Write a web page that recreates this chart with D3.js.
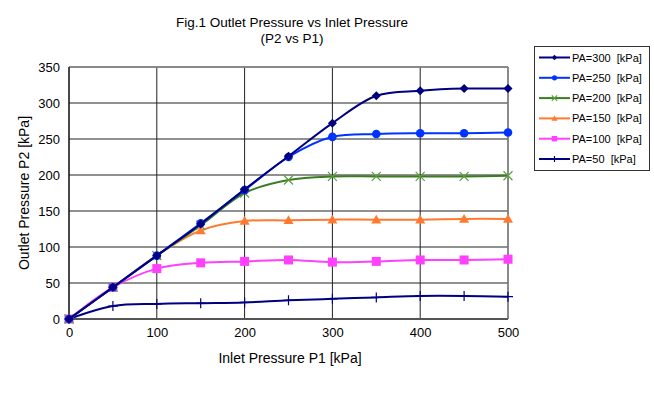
<!DOCTYPE html>
<html>
<head>
<meta charset="utf-8">
<script src="https://cdn.jsdelivr.net/npm/d3@7"></script>
<style>
  body { margin: 0; background: #fff; }
  svg { font-family: "Liberation Sans", Arial, sans-serif; }
  .grid line { stroke: #222; stroke-width: 1; }
  .axis text { font-size: 13px; fill: #000; }
</style>
</head>
<body>
<div id="chart"></div>
<script>
// inlet pressure P1 [kPa]
const inlet = [0, 50, 100, 150, 200, 250, 300, 350, 400, 450, 500];

// outlet pressure P2 [kPa] per supply pressure PA
const pa300 = [0, 44, 88, 132, 180, 226, 272, 310, 317, 320, 320];
const pa250 = [0, 44, 88, 133, 179, 225, 253, 257, 258, 258, 259];
const pa200 = [0, 44, 88, 130, 175, 193, 198, 198, 198, 198, 199];
const pa150 = [0, 44, 88, 123, 136, 137, 138, 138, 138, 139, 139];
const pa100 = [0, 44, 70, 78, 80, 82, 79, 80, 82, 82, 83];
const pa50  = [0, 18, 21, 22, 23, 26, 28, 30, 32, 32, 31];

const seriesNames = ["PA=300  [kPa]", "PA=250  [kPa]", "PA=200  [kPa]", "PA=150  [kPa]", "PA=100  [kPa]", "PA=50  [kPa]"];
const xTicks = [0, 100, 200, 300, 400, 500];
const yTicks = [0, 50, 100, 150, 200, 250, 300, 350];

const series = [
  {name: seriesNames[0], values: pa300, color: "#000080", marker: "diamond"},
  {name: seriesNames[1], values: pa250, color: "#0033ff", marker: "circle"},
  {name: seriesNames[2], values: pa200, color: "#3a7d22", marker: "cross", markerColor: "#5aa03a"},
  {name: seriesNames[3], values: pa150, color: "#ff7a30", marker: "triangle"},
  {name: seriesNames[4], values: pa100, color: "#ff40ff", marker: "square"},
  {name: seriesNames[5], values: pa50,  color: "#000080", marker: "plus"}
];

const width = 654, height = 395;
const margin = {top: 67, right: 146, bottom: 76, left: 69};

const svg = d3.select("#chart").append("svg")
  .attr("width", width)
  .attr("height", height);

const x = d3.scaleLinear().domain([0, 500]).range([margin.left, width - margin.right]);
const y = d3.scaleLinear().domain([0, 350]).range([height - margin.bottom, margin.top]);

// title
svg.append("text")
  .attr("x", 292).attr("y", 27)
  .attr("text-anchor", "middle")
  .style("font-size", "13.5px")
  .text("Fig.1 Outlet Pressure vs Inlet Pressure");
svg.append("text")
  .attr("x", 292).attr("y", 43)
  .attr("text-anchor", "middle")
  .style("font-size", "13.5px")
  .text("(P2 vs P1)");

// grid
const grid = svg.append("g").attr("class", "grid");
grid.selectAll(".h").data(yTicks).enter().append("line")
  .attr("x1", x(0)).attr("x2", x(500))
  .attr("y1", d => y(d)).attr("y2", d => y(d));
grid.selectAll(".v").data(xTicks).enter().append("line")
  .attr("x1", d => x(d)).attr("x2", d => x(d))
  .attr("y1", y(0)).attr("y2", y(350));

// frame: grey top/right/bottom, black left
svg.append("line").attr("x1", x(0)).attr("x2", x(500)).attr("y1", y(350)).attr("y2", y(350))
  .attr("stroke", "#888").attr("stroke-width", 1.5);
svg.append("line").attr("x1", x(500)).attr("x2", x(500)).attr("y1", y(350)).attr("y2", y(0))
  .attr("stroke", "#888").attr("stroke-width", 1.5);
svg.append("line").attr("x1", x(0)).attr("x2", x(500)).attr("y1", y(0)).attr("y2", y(0))
  .attr("stroke", "#555").attr("stroke-width", 2);
svg.append("line").attr("x1", x(0)).attr("x2", x(0)).attr("y1", y(350)).attr("y2", y(0))
  .attr("stroke", "#000").attr("stroke-width", 1);

// axes
const xAxis = d3.axisBottom(x).tickValues(xTicks).tickSize(0).tickPadding(9);
svg.append("g").attr("class", "axis")
  .attr("transform", "translate(0," + y(0) + ")")
  .call(xAxis)
  .call(g => g.select(".domain").remove());

const yAxis = d3.axisLeft(y).tickValues(yTicks).tickSize(0).tickPadding(9);
svg.append("g").attr("class", "axis")
  .attr("transform", "translate(" + x(0) + ",0)")
  .call(yAxis)
  .call(g => g.select(".domain").remove());

// axis titles
svg.append("text")
  .attr("x", 290).attr("y", 363)
  .attr("text-anchor", "middle")
  .style("font-size", "14px")
  .text("Inlet Pressure P1 [kPa]");
svg.append("text")
  .attr("transform", "translate(29," + y(175) + ") rotate(-90)")
  .attr("text-anchor", "middle")
  .style("font-size", "14px")
  .text("Outlet Pressure P2 [kPa]");

// markers
function drawMarker(g, type, color, cx, cy, scale) {
  const s = scale || 1;
  if (type === "diamond") {
    const r = 4.5 * s;
    g.append("path").attr("d", `M${cx},${cy - r}L${cx + r},${cy}L${cx},${cy + r}L${cx - r},${cy}Z`).attr("fill", color);
  } else if (type === "circle") {
    g.append("circle").attr("cx", cx).attr("cy", cy).attr("r", 4.3 * s).attr("fill", color);
  } else if (type === "cross") {
    const r = 4.5 * s;
    g.append("path").attr("d", `M${cx - r},${cy - r}L${cx + r},${cy + r}M${cx - r},${cy + r}L${cx + r},${cy - r}`)
      .attr("stroke", color).attr("stroke-width", 1.2).attr("fill", "none");
  } else if (type === "triangle") {
    const r = 5 * s;
    g.append("path").attr("d", `M${cx},${cy - r}L${cx + r},${cy + r * 0.75}L${cx - r},${cy + r * 0.75}Z`).attr("fill", color);
  } else if (type === "square") {
    const r = 4.5 * s;
    g.append("rect").attr("x", cx - r).attr("y", cy - r).attr("width", 2 * r).attr("height", 2 * r).attr("fill", color);
  } else if (type === "plus") {
    const r = 5 * s;
    g.append("path").attr("d", `M${cx},${cy - r}L${cx},${cy + r}M${cx - r},${cy}L${cx + r},${cy}`)
      .attr("stroke", color).attr("stroke-width", 1.2).attr("fill", "none");
  }
}

const line = d3.line()
  .x(d => x(d[0]))
  .y(d => y(d[1]))
  .curve(d3.curveCatmullRom.alpha(0.5));

// draw bottom series last-to-first so the top curves sit over the shared start
series.slice().reverse().forEach(s => {
  const pts = inlet.map((v, i) => [v, s.values[i]]);
  const g = svg.append("g");
  g.append("path")
    .datum(pts)
    .attr("fill", "none")
    .attr("stroke", s.color)
    .attr("stroke-width", 2)
    .attr("d", line);
  pts.forEach(p => drawMarker(g, s.marker, s.markerColor || s.color, x(p[0]), y(p[1])));
});

// legend
const legend = svg.append("g");
legend.append("rect")
  .attr("x", 534.5).attr("y", 46.5)
  .attr("width", 115).attr("height", 124)
  .attr("fill", "#fff").attr("stroke", "#333").attr("stroke-width", 1);

series.forEach((s, i) => {
  const ly = 57.5 + i * 20.3;
  legend.append("line")
    .attr("x1", 539).attr("x2", 570)
    .attr("y1", ly).attr("y2", ly)
    .attr("stroke", s.color).attr("stroke-width", 2);
  drawMarker(legend, s.marker, s.markerColor || s.color, 554.5, ly, 0.6);
  legend.append("text")
    .attr("x", 572).attr("y", ly + 4)
    .style("font-size", "11px")
    .style("white-space", "pre")
    .text(s.name);
});
</script>
</body>
</html>
